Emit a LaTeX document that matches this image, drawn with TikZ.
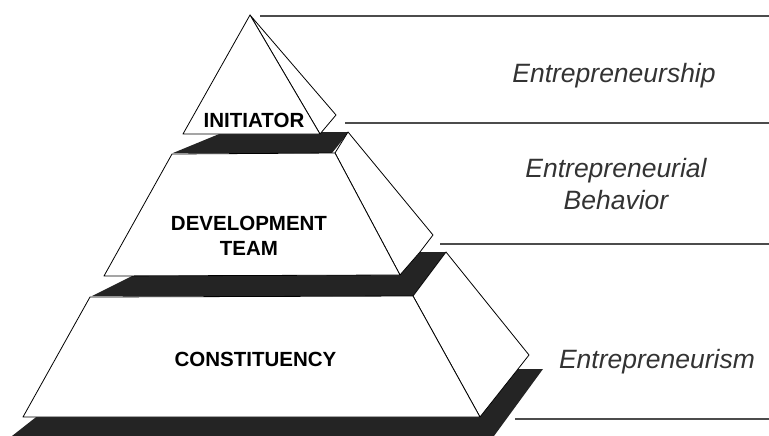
\documentclass[tikz,border=0pt]{standalone}
\usepackage{fontspec}
\setmainfont{Liberation Sans}

\begin{document}
\begin{tikzpicture}
  [x=1pt,y=-1pt,
   face/.style={draw,fill=white,line width=.8pt,line join=round},
   slab/.style={fill=black!86},
   rule/.style={draw=black!70,line width=1.3pt},
   tier/.style={font=\bfseries\fontsize{20.5}{25.6}\selectfont,align=center},
   level/.style={font=\itshape\fontsize{26.5}{32}\selectfont,align=center,text=black!80}]
  \useasboundingbox (0,0) rectangle (769,436);

  % rules between the levels
  \draw[rule] (260,16) -- (769,16);
  \draw[rule] (345,123) -- (769,123);
  \draw[rule] (440,244) -- (769,244);
  \draw[rule] (515,419) -- (769,419);

  % dark tops of the slabs
  \fill[slab] (12,436) -- (40,414) -- (476,414) -- (518,369) -- (543,369) -- (494,436) -- cycle;
  \fill[slab] (92,296) -- (140,272) -- (398,272) -- (420,252) -- (446,252) -- (413,296) -- cycle;
  \fill[slab] (173,153) -- (224,132) -- (349,132) -- (332,153) -- cycle;

  % bottom slab
  \draw[face] (413,296) -- (446,252) -- (529,355) -- (518,369) -- (480,417) -- cycle;
  \draw[face] (90,297) -- (413,296) -- (480,417) -- (23,417) -- cycle;

  % middle slab
  \draw[face] (335,153) -- (348,132) -- (433,235) -- (420,252) -- (400,275) -- cycle;
  \draw[face] (172,154) -- (335,153) -- (400,275) -- (104,276) -- cycle;

  % top
  \draw[face] (250,15) -- (336,115) -- (320,134) -- cycle;
  \draw[face] (250,15) -- (320,134) -- (183,134) -- cycle;

  \node[tier] (initiator) at (254,120) {INITIATOR};
  \node[tier] (team) at (249,236) {DEVELOPMENT\\TEAM};
  \node[tier] (constituency) at (255.5,359.5) {CONSTITUENCY};

  \node[level,anchor=base] (ship) at (614,82) {Entrepreneurship};
  \node[level] (behavior) at (616,184.5) {Entrepreneurial\\Behavior};
  \node[level,anchor=base] (ism) at (657,368) {Entrepreneurism};
\end{tikzpicture}
\end{document}
